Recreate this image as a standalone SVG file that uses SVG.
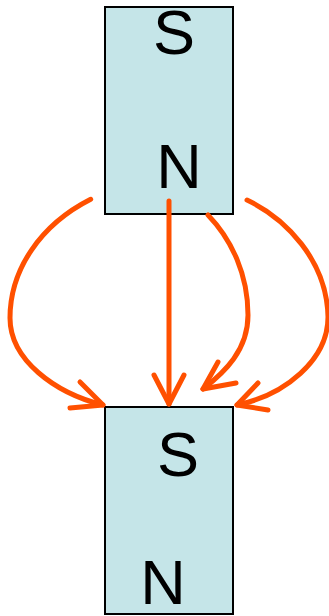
<svg xmlns="http://www.w3.org/2000/svg" width="329" height="616" viewBox="0 0 329 616">
<style>
.box{fill:#c5e5e8;stroke:#000;stroke-width:2}
.lbl{font-family:"Liberation Sans",Arial,sans-serif;font-size:63px;fill:#000;text-anchor:middle}
.arr{fill:none;stroke:#ff5000;stroke-width:5;stroke-linecap:round;stroke-linejoin:round}
</style>
<rect width="329" height="616" fill="#fff"/>
<g id="magnet-top">
<rect class="box" x="105" y="7" width="128" height="207"/>
<text class="lbl" x="174" y="54">S</text>
<text class="lbl" x="179" y="188">N</text>
</g>
<g id="magnet-bottom">
<rect class="box" x="105" y="407" width="128" height="207"/>
<text class="lbl" x="178" y="476">S</text>
<text class="lbl" x="163" y="604">N</text>
</g>
<g id="connectors">
<path class="arr" d="M90.7,199.3 C40,225 10,270 10,318 C10,360 55,393 103,405"/>
<path class="arr" d="M80,382 L103,405 L70,408"/>
<path class="arr" d="M169,201 L169,404"/>
<path class="arr" d="M154,375 L169,404 L184,375"/>
<path class="arr" d="M208,215 C232,240 248,275 248,315 C248,350 225,372 203,389"/>
<path class="arr" d="M218,362 L203,389 L236,383"/>
<path class="arr" d="M247,200 C285,218 327,260 328,317 C328,360 285,395 237,405"/>
<path class="arr" d="M258,383 L237,405 L268,410"/>
</g>
</svg>
